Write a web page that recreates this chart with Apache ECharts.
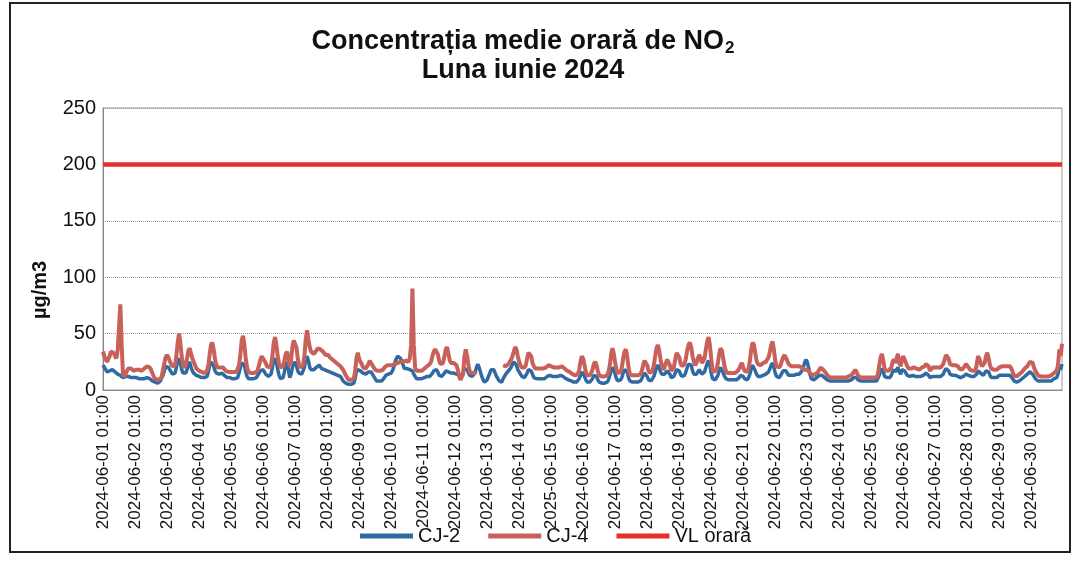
<!DOCTYPE html>
<html><head><meta charset="utf-8">
<script src="https://cdn.jsdelivr.net/npm/echarts@6/dist/echarts.min.js"></script>
<style>html,body{margin:0;padding:0;background:#fff}#c{width:1077px;height:562px}</style>
</head><body><div id="c"></div>
<script>
// Hourly NO2 (µg/m3), June 2024 – one row per day, hours 01:00 .. 24:00
const CJ4_DAYS = [
[34,30,27,25,24,30,34,34,33,30,28,35,55,76,40,14,12,13,17,19,20,19,18,17],
[18,18,19,18,17,17,18,19,20,21,21,20,18,15,12,10,9,9,9,10,12,18,24,29],
[31,29,26,23,21,20,22,30,42,50,42,30,22,20,22,28,35,37,32,28,25,22,19,18],
[17,16,16,15,15,16,17,22,32,40,42,36,27,22,20,20,20,21,20,19,17,16,16,16],
[16,16,16,16,16,17,22,32,44,48,40,28,20,16,15,15,15,15,15,16,18,22,27,30],
[28,27,24,21,20,20,22,30,42,47,40,30,23,20,20,21,26,32,34,28,21,26,38,44],
[45,38,28,22,20,20,22,30,45,53,45,38,34,33,32,33,35,37,37,36,35,34,33,31],
[30,31,29,30,27,28,25,26,23,24,21,22,18,17,13,12,9,8,9,8,10,16,28,33],
[28,25,23,20,19,19,20,23,26,25,22,20,18,17,17,17,17,17,18,20,21,22,22,22],
[22,22,22,23,24,24,24,25,25,25,26,26,26,25,28,40,90,40,20,17,17,17,17,17],
[18,19,20,21,22,23,25,30,34,36,36,32,26,23,22,24,30,36,38,32,26,24,24,24],
[23,22,18,12,9,9,14,30,36,30,22,16,15,15,15,15,14,null,null,null,null,null,null,null],
[null,null,null,null,null,null,null,null,null,null,null,null,22,22,21,21,23,25,27,30,34,38,36,30],
[25,22,20,19,20,22,28,33,34,30,24,21,19,19,19,19,19,19,19,19,20,21,22,22],
[21,21,20,20,20,20,20,21,21,20,19,18,17,17,16,15,14,13,13,13,14,18,25,30],
[28,22,16,13,13,13,15,18,23,25,22,17,13,12,12,12,12,12,13,16,22,32,37,32],
[24,18,15,15,16,20,28,34,36,30,20,14,13,13,13,13,13,13,13,14,17,22,26,27],
[22,17,15,15,17,22,30,37,40,35,27,21,18,20,24,27,28,22,17,16,20,27,33,34],
[29,24,21,21,23,28,35,40,42,38,30,25,22,24,28,31,29,24,24,28,36,43,47,40],
[28,18,16,16,18,24,32,37,35,28,21,17,15,15,15,15,15,15,15,16,17,19,22,24],
[20,17,16,16,19,26,36,42,40,33,26,23,22,22,23,24,25,25,26,29,34,40,43,36],
[26,21,20,20,22,26,29,31,30,26,23,22,21,21,21,21,21,21,21,21,20,19,18,18],
[18,17,15,14,13,13,14,15,16,18,20,19,18,17,15,13,12,11,11,11,11,11,11,11],
[11,11,11,11,11,11,11,12,12,13,14,16,18,16,13,12,11,11,11,11,11,11,11,11],
[11,11,11,11,11,14,22,29,32,26,19,17,17,17,17,20,25,27,24,28,32,24,21,27],
[30,27,24,21,19,18,19,20,20,19,19,18,18,19,20,20,21,23,24,21,17,18,20,20],
[20,20,20,20,20,21,23,27,31,32,28,23,22,22,22,22,22,21,19,18,18,19,21,23],
[22,20,18,17,17,17,17,22,30,28,24,21,20,24,30,33,28,22,19,18,18,18,18,19],
[20,21,21,21,21,21,21,21,21,19,16,13,12,12,13,14,15,16,17,19,20,21,23,25],
[26,24,20,17,15,13,12,12,12,12,12,12,12,12,12,13,14,15,16,17,22,36,30,41]
];
const CJ2_DAYS = [
[22,20,18,16,15,17,18,18,17,16,15,14,14,13,12,11,11,12,12,12,12,11,11,11],
[11,11,11,10,10,10,10,10,11,11,11,10,9,8,7,7,6,6,7,8,9,13,17,21],
[22,20,18,16,14,13,15,20,26,28,24,18,15,14,15,18,23,25,20,17,15,14,13,13],
[12,12,11,11,11,11,12,16,22,25,25,21,17,15,14,14,14,15,14,13,12,11,11,11],
[10,10,10,10,10,11,15,20,24,25,22,16,12,10,10,10,10,10,10,11,13,15,17,18],
[18,16,14,13,12,12,14,20,26,28,25,18,13,10,10,11,16,22,25,18,11,14,20,23],
[25,22,17,15,14,14,15,20,27,30,26,20,18,18,18,19,20,21,22,21,19,18,18,17],
[17,17,16,16,15,15,14,14,13,13,12,10,8,7,6,5,5,5,5,5,6,10,16,18],
[18,17,17,15,14,14,14,16,17,16,14,12,10,8,8,8,8,8,9,11,13,14,14,14],
[15,17,20,25,28,30,29,28,26,22,19,19,19,18,18,18,17,14,12,10,10,10,10,10],
[11,11,12,12,12,12,13,15,17,18,18,16,13,12,12,13,15,17,18,16,15,15,15,15],
[14,14,13,13,12,13,16,19,20,18,15,13,12,12,13,16,20,23,20,16,12,9,7,7],
[9,12,15,18,19,18,15,12,10,8,7,7,10,12,14,15,17,18,20,23,25,25,22,18],
[16,14,12,11,11,12,15,18,19,17,14,11,10,10,10,10,10,10,10,10,11,12,13,13],
[13,12,12,12,12,12,12,13,13,12,11,10,9,9,9,8,8,7,7,7,8,10,13,16],
[16,12,9,7,7,7,8,10,13,14,12,9,7,6,6,6,6,6,7,9,13,17,20,18],
[14,10,8,8,9,11,15,18,19,16,11,8,7,7,7,7,7,7,7,8,10,13,15,15],
[12,9,8,8,9,12,16,20,22,20,16,14,13,14,15,17,17,14,11,10,12,15,18,19],
[17,14,12,12,13,16,20,23,24,22,17,14,13,14,16,18,17,14,14,16,20,24,26,22],
[15,10,9,9,10,13,17,20,19,15,12,10,9,9,9,9,9,9,9,9,10,11,13,14],
[12,10,9,9,11,14,19,22,21,17,14,12,12,12,13,13,14,14,14,16,19,22,24,20],
[15,12,11,11,12,15,17,18,17,15,13,13,13,13,13,13,14,14,14,15,17,20,24,27],
[25,20,14,10,9,9,10,11,12,13,14,13,12,11,10,9,8,8,8,8,8,8,8,8],
[8,8,8,8,8,8,8,8,9,9,10,11,12,11,9,8,8,8,8,8,8,8,8,8],
[8,8,8,8,8,9,13,17,19,16,12,11,11,11,11,13,16,18,16,18,20,16,14,18],
[19,17,15,13,12,12,12,13,13,12,12,12,12,12,13,13,14,15,15,13,11,11,12,12],
[12,12,12,12,12,13,14,17,19,20,17,14,13,13,13,13,13,12,11,11,11,12,13,14],
[14,13,12,12,12,12,12,14,17,17,15,14,13,15,17,18,16,13,11,11,11,11,11,12],
[13,13,13,13,13,13,13,13,13,12,10,8,7,7,8,8,9,10,11,12,13,14,15,16],
[16,14,12,10,9,8,8,8,8,8,8,8,8,8,8,8,9,10,11,11,14,20,18,23]
];
const VL_LIMIT = 200;
const DAY_LABELS = ['2024-06-01','2024-06-02','2024-06-03','2024-06-04','2024-06-05','2024-06-06','2024-06-07','2024-06-08','2024-06-09','2024-06-10','2024-06-11','2024-06-12','2024-06-13','2024-06-14','2025-06-15','2024-06-16','2024-06-17','2024-06-18','2024-06-19','2024-06-20','2024-06-21','2024-06-22','2024-06-23','2024-06-24','2024-06-25','2024-06-26','2024-06-27','2024-06-28','2024-06-29','2024-06-30','2024-07-01'];
const HOUR_LABELS = ['01:00','02:00','03:00','04:00','05:00','06:00','07:00','08:00','09:00','10:00','11:00','12:00','13:00','14:00','15:00','16:00','17:00','18:00','19:00','20:00','21:00','22:00','23:00','00:00'];

const categories = [];
DAY_LABELS.slice(0, 30).forEach((d, di) => {
  HOUR_LABELS.forEach((h, hi) => {
    const day = hi === 23 ? DAY_LABELS[di + 1] : d;
    categories.push(day + ' ' + h);
  });
});
const CJ4 = [].concat(...CJ4_DAYS);
const CJ2 = [].concat(...CJ2_DAYS);
const VL = categories.map(() => VL_LIMIT);

const FONT = 'Liberation Sans, Arial, sans-serif';
const chart = echarts.init(document.getElementById('c'), null, {renderer: 'canvas'});
chart.setOption({
  animation: false,
  backgroundColor: '#fff',
  textStyle: {fontFamily: FONT},
  grid: {left: 103, right: 15, top: 108, bottom: 172, show: true, borderColor: '#999', borderWidth: 1},
  graphic: [
    {type: 'rect', z: -10, shape: {x: 10, y: 3, width: 1060, height: 549}, style: {fill: null, stroke: '#222', lineWidth: 2}},
    {type: 'text', x: 523, y: 26, style: {
      text: '{t|Concentrația medie orară de NO}{s|2}', align: 'center', verticalAlign: 'top',
      rich: {
        t: {fontSize: 27, fontWeight: 'bold', fontFamily: FONT, fill: '#111'},
        s: {fontSize: 17, fontWeight: 'bold', fontFamily: FONT, fill: '#111', padding: [14, 0, 0, 1]}
      }}},
    {type: 'text', x: 523, y: 57, style: {text: 'Luna iunie 2024', align: 'center', verticalAlign: 'top',
      font: 'bold 27px ' + FONT, fill: '#111'}},
    {type: 'text', x: 40, y: 290, rotation: Math.PI / 2, style: {text: 'µg/m3', align: 'center', verticalAlign: 'middle',
      font: 'bold 20px ' + FONT, fill: '#111'}}
  ],
  legend: {
    left: 355, top: 521, icon: 'rect', itemWidth: 53, itemHeight: 5, itemGap: 28,
    textStyle: {fontSize: 20, color: '#111', fontFamily: FONT},
    data: ['CJ-2', 'CJ-4', 'VL orară']
  },
  xAxis: {
    type: 'category', data: categories, boundaryGap: false,
    axisLine: {lineStyle: {color: '#888'}}, axisTick: {show: false},
    axisLabel: {interval: 23, rotate: 90, fontSize: 17, color: '#111', margin: 5, fontFamily: FONT},
    splitLine: {show: false}
  },
  yAxis: {
    type: 'value', min: 0, max: 250, interval: 50,
    axisLine: {show: true, lineStyle: {color: '#888'}}, axisTick: {show: false},
    axisLabel: {fontSize: 20, color: '#111', margin: 7, fontFamily: FONT},
    splitLine: {lineStyle: {color: '#999', type: 'dotted', width: 1}}
  },
  series: [
    {name: 'CJ-2', type: 'line', data: CJ2, showSymbol: false, lineStyle: {color: '#2f6aa3', width: 3.5}, itemStyle: {color: '#2f6aa3'}},
    {name: 'CJ-4', type: 'line', data: CJ4, showSymbol: false, lineStyle: {color: '#c9615b', width: 4}, itemStyle: {color: '#c9615b'}},
    {name: 'VL orară', type: 'line', data: VL, showSymbol: false, lineStyle: {color: '#e8312b', width: 4.5}, itemStyle: {color: '#e8312b'}}
  ]
});
</script>
</body></html>
